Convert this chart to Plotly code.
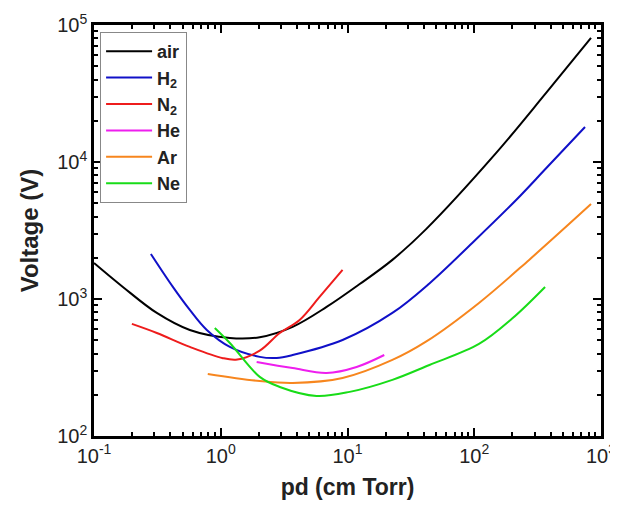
import plotly.graph_objects as go

# Paschen curves: values
air_x = [0.1, 0.169, 0.313, 0.57, 1.18, 2.03, 3.69, 6.84, 12.4, 22.6, 41.9, 149, 369, 834]
air_y = [1833, 1225, 791, 594, 519, 526, 626, 875, 1280, 1930, 3250, 11650, 31900, 80400]

h2_x = [0.281, 0.419, 0.57, 0.776, 1.18, 2.03, 2.76, 3.69, 9.14, 22.6, 44.3, 96.4, 214, 369, 748]
h2_y = [2130, 1225, 832, 594, 447, 378, 371, 390, 502, 791, 1300, 2565, 5280, 9000, 18000]

n2_x = [0.199, 0.313, 0.57, 1.04, 1.35, 2.03, 2.92, 4.19, 6.02, 9.14]
n2_y = [658, 565, 447, 370, 362, 420, 565, 703, 1035, 1630]

he_x = [1.92, 3.69, 6.84, 11.8, 19.5]
he_y = [347, 313, 288, 319, 390]

ar_x = [0.79, 2.03, 3.69, 9.14, 22.6, 41.9, 109, 271, 834]
ar_y = [284, 252, 244, 265, 359, 490, 936, 1930, 4930]

ne_x = [0.897, 1.18, 2.03, 2.92, 5.7, 10.4, 22.6, 44.3, 109, 199, 362]
ne_y = [614, 477, 270, 228, 196, 210, 257, 330, 470, 720, 1225]

x_tickvals = [0.1, 1, 10, 100, 1000]
x_ticktext = ["10<sup>-1</sup>", "10<sup>0</sup>", "10<sup>1</sup>", "10<sup>2</sup>", "10<sup>3</sup>"]
y_tickvals = [100, 1000, 10000, 100000]
y_ticktext = ["10<sup>2</sup>", "10<sup>3</sup>", "10<sup>4</sup>", "10<sup>5</sup>"]

series = [
    ("air", air_x, air_y, "#000000"),
    ("H<sub>2</sub>", h2_x, h2_y, "#1010C8"),
    ("N<sub>2</sub>", n2_x, n2_y, "#EE1C1C"),
    ("He", he_x, he_y, "#EE1EEE"),
    ("Ar", ar_x, ar_y, "#F7861E"),
    ("Ne", ne_x, ne_y, "#18DC18"),
]

fig = go.Figure()
for name, xs, ys, col in series:
    fig.add_trace(go.Scatter(x=xs, y=ys, name=name, mode="lines",
                             line=dict(color=col, width=2, shape="spline", smoothing=1.0)))

tickfont = dict(family="Liberation Sans", size=20, color="#222")
axis_common = dict(
    type="log", showline=True, linecolor="black", linewidth=2.5, mirror="allticks",
    ticks="inside", ticklen=8, tickwidth=2, tickcolor="black",
    showgrid=False, zeroline=False, automargin=False,
    tickfont=tickfont,
    minor=dict(ticks="inside", ticklen=4, tickwidth=1.5, tickcolor="black",
               showgrid=False, dtick="D1"),
)

fig.update_layout(
    width=618, height=505,
    margin=dict(l=86, r=25, t=17, b=77),
    paper_bgcolor="white", plot_bgcolor="white",
    font=dict(family="Liberation Sans", color="#222"),
    xaxis=dict(range=[-1, 3], tickvals=x_tickvals, ticktext=x_ticktext,
               title=dict(text="pd (cm Torr)", standoff=14,
                          font=dict(family="Liberation Sans", size=23, weight="bold")),
               **axis_common),
    yaxis=dict(range=[2, 5], tickvals=y_tickvals, ticktext=y_ticktext,
               title=dict(text="Voltage (V)", standoff=12,
                          font=dict(family="Liberation Sans", size=24, weight="bold")),
               **axis_common),
    legend=dict(x=0.012, y=0.983, xanchor="left", yanchor="top",
                bordercolor="#888", borderwidth=1, bgcolor="white",
                font=dict(family="Liberation Sans", size=18, color="#222", weight="bold"),
                tracegroupgap=0, itemwidth=46),
    showlegend=True,
)

fig.write_html("out.html")
